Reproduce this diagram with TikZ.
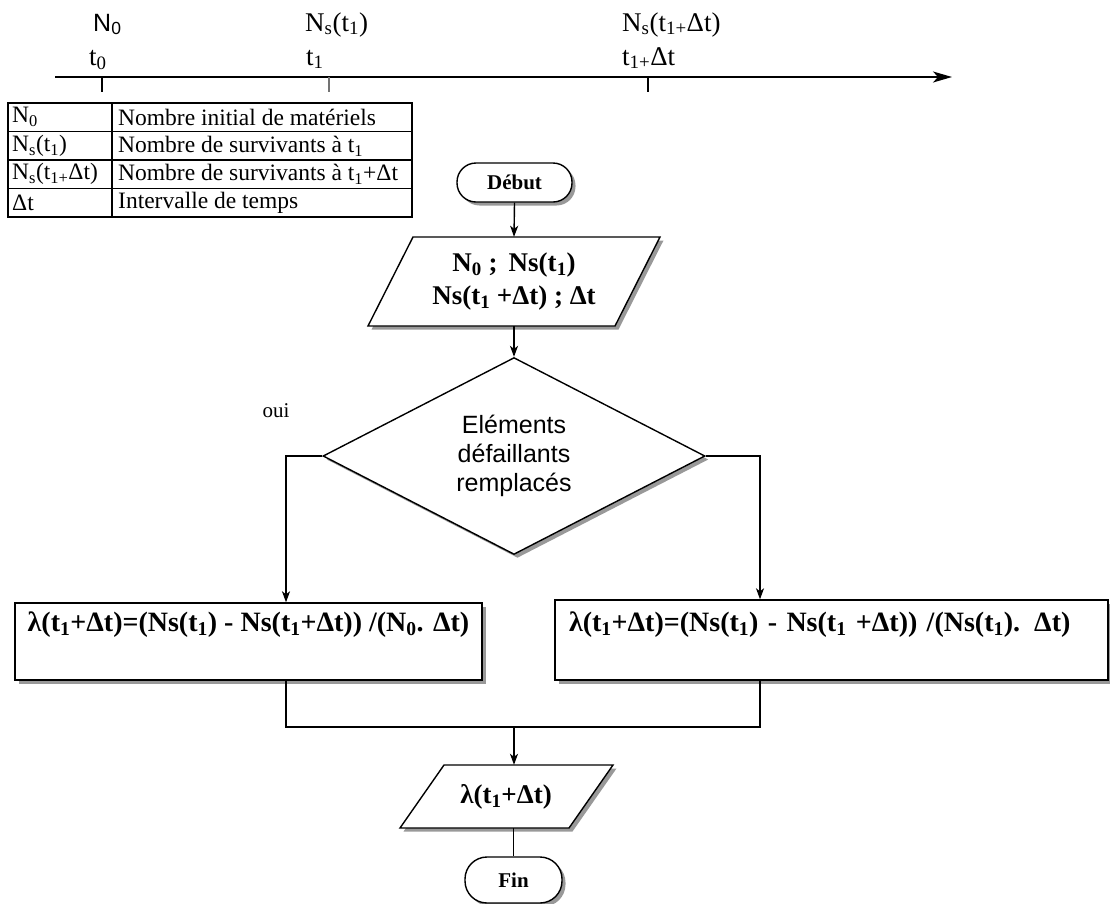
\documentclass[tikz,border=0pt]{standalone}
\usepackage{fontspec}
\setmainfont{Liberation Serif}
\setsansfont{Liberation Sans}
\usetikzlibrary{arrows.meta,shapes.geometric,shadows}
\newcommand{\sub}[1]{\textsubscript{#1}}
\begin{document}
\begin{tikzpicture}[x=1pt,y=-1pt,
  shad/.style={drop shadow={shadow xshift=3.5pt,shadow yshift=-3.5pt,fill=black!40,opacity=1}},
  shp/.style={draw,line width=1.4pt,fill=white},
  term/.style={shp,shad,rectangle,rounded corners=19pt,inner sep=0pt,font=\fontsize{21}{25}\selectfont\bfseries},
  arr/.style={line width=1.4pt,-{Stealth[length=11pt,width=8pt,inset=3pt]}},
  conn/.style={line width=1.4pt},
  tl/.style={font=\fontsize{27}{31}\selectfont,anchor=base west,inner sep=0pt},
  tab/.style={font=\fontsize{23.5}{27}\selectfont,anchor=west,inner sep=0pt},
  boxtxt/.style={font=\fontsize{28}{32}\selectfont\bfseries},
]
\useasboundingbox (0,0) rectangle (1110,903);

% timeline
\coordinate (ta) at (55,77);
\coordinate (tb) at (952,77);
\draw[line width=1.6pt,-{Stealth[length=19pt,width=11pt,inset=5pt]}] (ta) -- (tb);
\coordinate (k0) at (102,77);
\coordinate (k1) at (329,77);
\coordinate (k2) at (648,77);
\draw[line width=1.3pt] (k0) -- ++(0,15);
\draw[line width=1.7pt,black!55] (k1) -- ++(0,15);
\draw[line width=1.3pt] (k2) -- ++(0,15);
\node[tl,font=\fontsize{25}{30}\sffamily] (lN0) at (93,31) {N\sub{0}};
\node[tl] (lt0) at (89,65) {t\sub{0}};
\node[tl] (lN1) at (305,31) {N\sub{s}(t\sub{1})};
\node[tl] (lt1) at (306,65) {t\sub{1}};
\node[tl] (lN2) at (622,31) {N\sub{s}(t\sub{1+}Δt)};
\node[tl] (lt2) at (622,65) {t\sub{1+}Δt};

% table
\draw[line width=1.2pt] (8,103) rectangle (412,217);
\draw[line width=1.2pt] (8,131.5) -- (412,131.5) (8,160) -- (412,160) (8,188.5) -- (412,188.5) (112,103) -- (112,217);
\node[tab] (a1) at (12,117) {N\sub{0}};
\node[tab] (b1) at (118,117) {Nombre initial de matériels};
\node[tab] (a2) at (12,146) {N\sub{s}(t\sub{1})};
\node[tab] (b2) at (118,146) {Nombre de survivants à t\sub{1}};
\node[tab] (a3) at (12,174) {N\sub{s}(t\sub{1+}Δt)};
\node[tab] (b3) at (118,174) {Nombre de survivants à t\sub{1}+Δt};
\node[tab] (a4) at (12,203) {Δt};
\node[tab] (b4) at (118,203) {Intervalle de temps};

% Début
\node[term,minimum width=115pt,minimum height=39pt] (debut) at (514.5,182.5) {Début};

% input parallelogram
\draw[shp,shad] (413,237) -- (660,237) -- (615,326) -- (368,326) -- cycle;
\node[inner sep=0pt,minimum height=89pt,minimum width=200pt,align=center,font=\fontsize{27}{33}\selectfont\bfseries] (inp) at (514,281.5) {N\sub{0} ;\, Ns(t\sub{1})\\Ns(t\sub{1} +Δt) ; Δt};

% decision
\node[shp,shad,diamond,minimum width=382pt,minimum height=194pt,inner sep=0pt,align=center,font=\fontsize{25}{29}\sffamily] (dec) at (514,456) {Eléments\\défaillants\\remplacés};

\node[font=\fontsize{21}{25}\selectfont,inner sep=0pt] (oui) at (276,411) {oui};

% boxes
\node[shp,shad,rectangle,minimum width=467pt,inner sep=0pt,text height=28pt,text depth=49pt,boxtxt] (lbox) at (248.5,641.5) {λ(t\sub{1}+Δt)=(Ns(t\sub{1}) - Ns(t\sub{1}+Δt)) /(N\sub{0}. Δt)};
\node[shp,shad,rectangle,inner ysep=0pt,inner xsep=14pt,text width=525pt,align=left,text height=31pt,text depth=49pt,boxtxt] (rbox) at (831.5,640) {λ(t\sub{1}+Δt)=(Ns(t\sub{1}) - Ns(t\sub{1} +Δt)) /(Ns(t\sub{1}). Δt)};

% output parallelogram
\draw[shp,shad] (444,765) -- (613,765) -- (569,828) -- (400,828) -- cycle;
\node[inner sep=0pt,minimum height=63pt,font=\fontsize{27}{33}\selectfont\bfseries] (outp) at (506,796.5) {λ(t\sub{1}+Δt)};

% Fin
\node[term,minimum width=97pt,minimum height=46pt,rounded corners=22pt] (fin) at (513.5,880) {Fin};

% connectors
\draw[arr] (debut.south) -- (inp.north);
\draw[arr] (inp.south) -- (dec.north);
\coordinate (lb) at (286,456);
\coordinate (rb) at (760,456);
\draw[arr] (dec.west) -- (lb) -- (lb |- lbox.north);
\draw[arr] (dec.east) -- (rb) -- (rb |- rbox.north);
\coordinate (jl) at (286,727);
\coordinate (jr) at (760,727);
\coordinate (jm) at (514,727);
\draw[conn] (jl |- lbox.south) -- (jl) -- (jr) -- (jr |- rbox.south);
\draw[arr] (jm) -- (jm |- outp.north);
\draw[conn] (fin.north |- outp.south) -- (fin.north);
\end{tikzpicture}
\end{document}
